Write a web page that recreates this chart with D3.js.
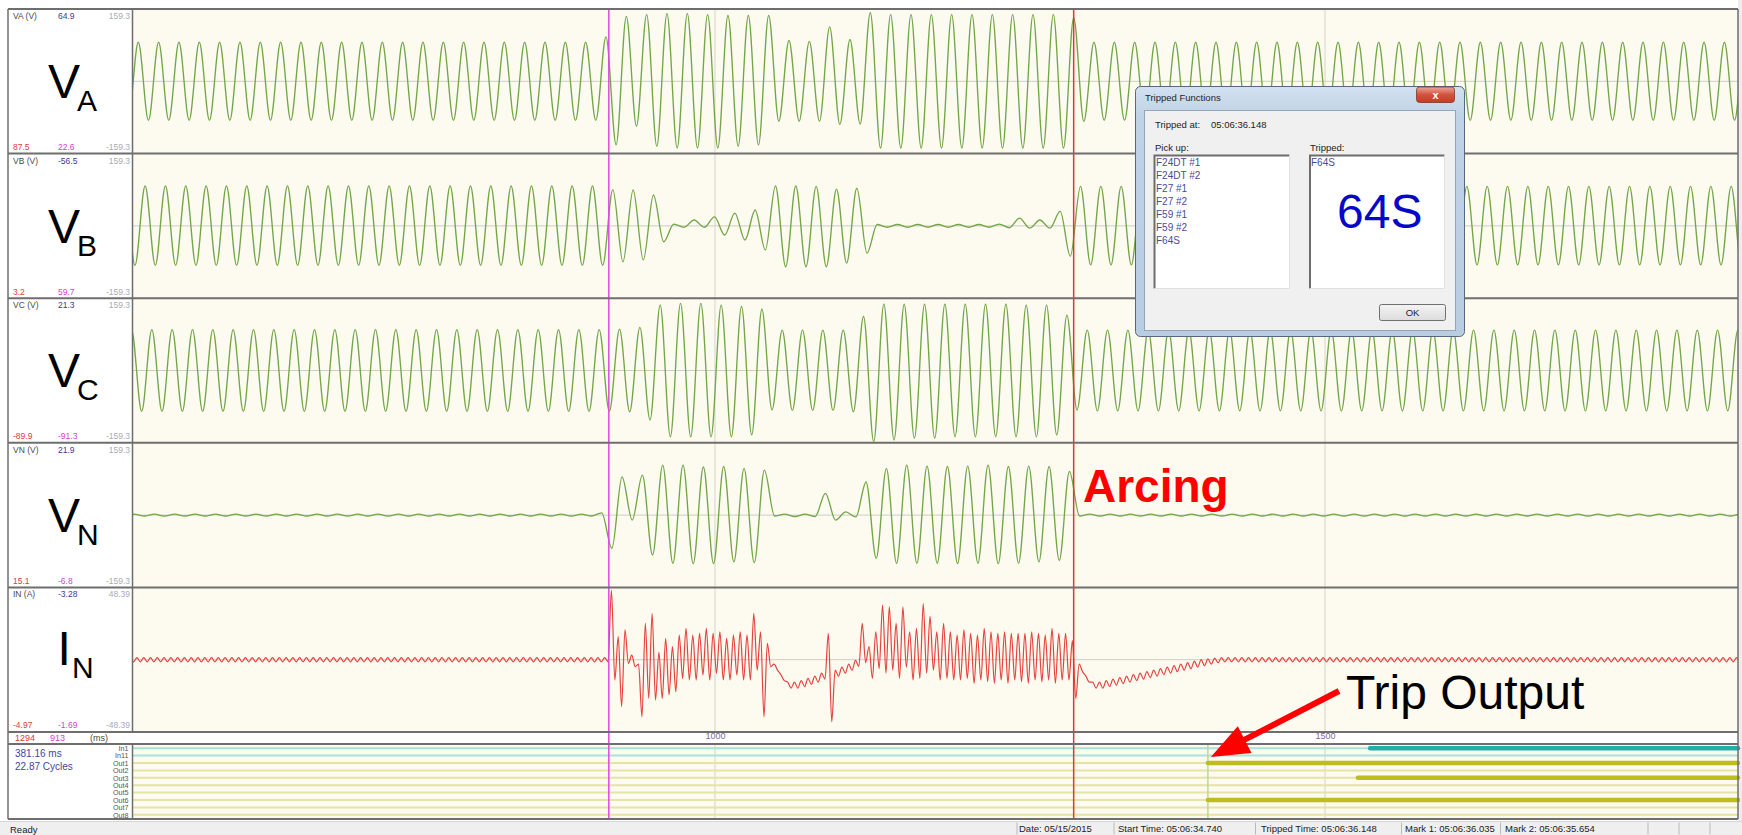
<!DOCTYPE html>
<html>
<head>
<meta charset="utf-8">
<title>64S stator ground fault record</title>
<script src="https://cdn.jsdelivr.net/npm/d3@7/dist/d3.min.js"></script>
<style>
  html, body { margin: 0; padding: 0; background: #ffffff; }
  svg { display: block; }
  text { font-family: "Liberation Sans", Arial, sans-serif; }
</style>
</head>
<body>
<svg id="chart" width="1742" height="835"></svg>
<script>
// ---------------------------------------------------------------------------
// Record data
// ---------------------------------------------------------------------------
const timeDomain = [523, 1838.5];     // ms shown across the plot
const timeTicks = [1000, 1500];       // ms
const mark1Time = 1294;               // red cursor (ms)
const mark2Time = 913;                // magenta cursor (ms)
const tripOutTime = 1404;             // trip contact pickup (ms)
const cycleMs = 1000 / 60;            // 60 Hz system

const channelIds   = ["VA", "VB", "VC", "VN", "IN"];
const channelNames = ["VA (V)", "VB (V)", "VC (V)", "VN (V)", "IN (A)"];
const channelRange = [159.3, 159.3, 159.3, 159.3, 48.39];
const rangeTopText = ["159.3", "159.3", "159.3", "159.3", "48.39"];
const rangeBotText = ["-159.3", "-159.3", "-159.3", "-159.3", "-48.39"];
const cursorValues = ["64.9", "-56.5", "21.3", "21.9", "-3.28"];
const mark1Values  = ["87.5", "3.2", "-89.9", "15.1", "-4.97"];
const mark2Values  = ["22.6", "59.7", "-91.3", "-6.8", "-1.69"];
const bigLetter    = ["V", "V", "V", "V", "I"];
const bigSubscript = ["A", "B", "C", "N", "N"];

// Waveforms: time of the first peak (ms) and runs of [cycles, peak, trough].
// Voltage runs step one 60 Hz cycle; the neutral current steps one 180 Hz cycle.
const VA_start = 494.0;
const VA_runs = [
  [25, 86, -86], [1, 98, -140], [1, 143, -99], [1, 147, -143], [1, 149, -147],
  [1, 149, -147], [1, 147, -147], [1, 145, -143], [1, 145, -140], [1, 145, -88],
  [1, 90, -88], [1, 88, -88], [1, 120, -95], [1, 92, -94], [1, 151, -147],
  [9, 147, -147], [1, 140, -88], [35, 86, -86]
];

const VB_start = 499.6;
const VB_runs = [
  [25, 88, -87], [1, 80, -79], [1, 79, -75], [1, 68, -35], [1, 4, -3],
  [1, 13, -3], [1, 20, -20], [1, 28, -31], [1, 35, -53], [1, 88, -90],
  [1, 88, -90], [1, 87, -90], [1, 81, -82], [1, 83, -60], [6, 3, -3],
  [1, 4, -4], [1, 17, -5], [1, 13, -5], [1, 32, -67], [35, 87, -86]
];

const VC_start = 505.1;
const VC_runs = [
  [25, 90, -90], [1, 91, -91], [1, 95, -109], [1, 144, -146], [1, 148, -146],
  [1, 148, -146], [1, 144, -146], [1, 141, -142], [1, 135, -87], [1, 89, -88],
  [1, 89, -88], [1, 89, -88], [1, 89, -91], [1, 119, -157], [1, 146, -153],
  [1, 146, -149], [1, 146, -149], [4, 146, -146], [1, 144, -146], [1, 144, -142],
  [1, 122, -87], [35, 89, -89]
];

const VN_start = 490.5;
const VN_runs = [
  [25, 2, -2], [1, 5, -73], [1, 84, -11], [1, 88, -88], [1, 110, -106],
  [1, 110, -107], [1, 106, -107], [1, 107, -103], [1, 103, -105], [1, 99, -2],
  [2, 2, -3], [1, 48, -11], [1, 7, -4], [1, 73, -95], [1, 103, -106],
  [1, 110, -106], [1, 108, -106], [1, 107, -107], [1, 108, -106], [1, 110, -107],
  [1, 107, -106], [1, 108, -103], [1, 107, -100], [1, 96, -2], [35, 2, -2]
];

const IN_start = 520.7;
const IN_runs = [
  [71, 1.4, -1.4],
  // first arcing burst
  [1, 46.6, -13.6], [1, 15.4, -31.4], [1, 19.9, -2.4], [1, 3, -4.7], [1, -3, -38.2],
  [1, 24.4, -25.9], [1, 31, -27], [1, 5, -25.9], [1, 14.3, -23.6], [1, 8.7, -21.4],
  [1, 16.5, -12.5], [1, 21, -13.6], [1, 16.5, -13.6], [1, 17.7, -10.2], [1, 21, -13.6],
  [1, 17.7, -9.1], [1, 18.7, -13.6], [1, 14.3, -13.6], [1, 16.5, -10.2], [1, 18.7, -13.6],
  [1, 16.5, -13.6], [1, 31, -6.9], [1, 18.7, -38.2], [1, 11, -4.7],
  // arc extinguished
  [1, -3, -7], [1, -10, -14], [1, -15, -19], [1, -15, -19], [1, -14, -18],
  [1, -12.5, -16.5], [1, -11, -15], [1, -9, -13], [1, 17.7, -41.5], [1, -7, -11],
  [1, -5, -9], [1, -3, -7], [1, -0.5, -4.5],
  // second arcing burst
  [1, 24.4, -2], [1, 8.7, -12.5], [1, 18.7, -6], [1, 36.6, -9], [1, 35.3, -7],
  [1, 24.4, -12.5], [1, 35.3, -5], [1, 18.7, -13.6], [1, 21, -12.5], [1, 37.5, -9],
  [1, 29, -7], [1, 18.7, -13.6], [1, 24.4, -12.5], [1, 18.7, -13.6], [1, 16.5, -13.6],
  [1, 20, -12.5], [1, 17.7, -15.8], [1, 16.5, -13.6], [1, 21, -14.7], [1, 18.7, -15.8],
  [1, 17.7, -13.6], [1, 18.7, -15.8], [1, 17.7, -13.6], [1, 17.7, -14.7], [1, 17.7, -15.8],
  [1, 18.7, -13.6], [1, 17.7, -14.7], [1, 16.5, -13.6], [1, 21, -15.8], [1, 17.7, -13.6],
  [1, 17.7, -13.6], [1, 12.8, -25.9],
  // recovery after trip
  [1, -3, -8], [1, -11, -15], [1, -15, -19], [1, -15, -19], [1, -14, -18],
  [1, -13, -17], [1, -12, -16], [1, -11, -15], [1, -10, -14], [1, -9, -13],
  [1, -8, -12], [1, -7, -11], [1, -6, -10], [1, -5, -9], [1, -4, -8],
  [1, -3, -7], [1, -2, -6], [1, -1, -5], [1, 0, -4], [1, 0.5, -3],
  [1, 1, -2], [78, 1.4, -1.4]
];

// Digital channels
const digitalNames = ["In1", "In11", "Out1", "Out2", "Out3", "Out4", "Out5", "Out6", "Out7", "Out8"];
const digitalOnAt  = [1537, null, 1404, null, 1527, null, null, 1404, null, null];

// Cursor summary, dialog and status bar texts
const cursorDelta = ["381.16 ms", "22.87 Cycles"];
const trippedAt = "05:06:36.148";
const pickupList = ["F24DT #1", "F24DT #2", "F27 #1", "F27 #2", "F59 #1", "F59 #2", "F64S"];
const trippedList = ["F64S"];
const statusFields = ["Date: 05/15/2015", "Start Time: 05:06:34.740", "Tripped Time: 05:06:36.148",
                      "Mark 1: 05:06:36.035", "Mark 2: 05:06:35.654"];

// ---------------------------------------------------------------------------
// Layout
// ---------------------------------------------------------------------------
const frameL = 8, labelR = 132.5, plotL = 133, plotR = 1738;
const panelsTop = 9, panelsBottom = 732;
const axisRowBottom = 744, digitalBottom = 819, statusTop = 821, H = 835;

const cream = "#fdfaf0";
const borderCol = "#6e6e6e";
const waveGreen = "#72a646";
const waveRed = "#e6433f";

const svg = d3.select("#chart");
const defs = svg.append("defs");

const x = d3.scaleLinear().domain(timeDomain).range([plotL, plotR]);
const band = d3.scaleBand().domain(channelIds).range([panelsTop, panelsBottom]);

const starts = { VA: VA_start, VB: VB_start, VC: VC_start, VN: VN_start, IN: IN_start };
const runs = { VA: VA_runs, VB: VB_runs, VC: VC_runs, VN: VN_runs, IN: IN_runs };
const periods = { VA: cycleMs, VB: cycleMs, VC: cycleMs, VN: cycleMs, IN: cycleMs / 3 };

// Expand runs into alternating peak / trough knots
function cycleKnots(start, period, list) {
  const pts = [];
  let i = 0;
  for (const [n, hi, lo] of list) {
    for (let c = 0; c < n; c++, i++) {
      const t = start + i * period;
      pts.push([t, hi], [t + period / 2, lo]);
    }
  }
  return pts;
}

svg.append("rect").attr("x", 0).attr("y", 0).attr("width", 1742).attr("height", H).attr("fill", "#ffffff");
svg.append("rect").attr("x", plotR).attr("y", 0).attr("width", 1742 - plotR).attr("height", H).attr("fill", "#ededed");

const gBack = svg.append("g");
const gWave = svg.append("g");
const gFront = svg.append("g");

// ---------------------------------------------------------------------------
// Analog panels
// ---------------------------------------------------------------------------
channelIds.forEach((id, i) => {
  const top = band(id), h = band.bandwidth(), bottom = top + h;
  const y = d3.scaleLinear().domain([-channelRange[i], channelRange[i]]).range([bottom, top]);

  gBack.append("rect").attr("x", plotL).attr("y", top).attr("width", plotR - plotL).attr("height", h)
    .attr("fill", cream);
  gBack.append("rect").attr("x", frameL).attr("y", top).attr("width", labelR - frameL).attr("height", h)
    .attr("fill", "#ffffff");

  gBack.append("line").attr("x1", plotL).attr("x2", plotR).attr("y1", y(0)).attr("y2", y(0))
    .attr("stroke", "#cdcdc6").attr("stroke-width", 1);
  gBack.selectAll(null).data(timeTicks).join("line")
    .attr("x1", d => x(d)).attr("x2", d => x(d)).attr("y1", top).attr("y2", bottom)
    .attr("stroke", "#d4d4cc").attr("stroke-width", 1);

  defs.append("clipPath").attr("id", "clip-" + id).append("rect")
    .attr("x", plotL).attr("y", top + 1).attr("width", plotR - plotL).attr("height", h - 2);

  const line = d3.line().x(d => x(d[0])).y(d => y(d[1])).curve(d3.curveMonotoneX);
  gWave.append("path")
    .datum(cycleKnots(starts[id], periods[id], runs[id]))
    .attr("d", line)
    .attr("clip-path", "url(#clip-" + id + ")")
    .attr("fill", "none")
    .attr("stroke", id === "IN" ? waveRed : waveGreen)
    .attr("stroke-width", id === "IN" ? 1.2 : 1.35)
    .attr("stroke-linejoin", "round");

  // small header / footer readings
  const small = (tx, ty, txt, col, anchor) => gFront.append("text").attr("x", tx).attr("y", ty)
    .attr("font-size", 8.5).attr("fill", col).attr("text-anchor", anchor || "start").text(txt);
  small(13, top + 10, channelNames[i], "#4a4a4a");
  small(58, top + 10, cursorValues[i], "#3b3b8f");
  small(130, top + 10, rangeTopText[i], "#ababab", "end");
  small(13, top + 141, mark1Values[i], "#e23b3b");
  small(58, top + 141, mark2Values[i], "#d33fd3");
  small(130, top + 141, rangeBotText[i], "#ababab", "end");

  // large channel name
  const isI = bigLetter[i] === "I";
  gFront.append("text").attr("x", isI ? 57.5 : 48).attr("y", top + (isI ? 78 : 89))
    .attr("font-size", 48).attr("fill", "#000").text(bigLetter[i]);
  gFront.append("text").attr("x", isI ? 72 : 77).attr("y", top + (isI ? 91 : 102))
    .attr("font-size", 30).attr("fill", "#000").text(bigSubscript[i]);
});

// ---------------------------------------------------------------------------
// Time axis row
// ---------------------------------------------------------------------------
gBack.append("rect").attr("x", frameL).attr("y", panelsBottom).attr("width", plotR - frameL)
  .attr("height", axisRowBottom - panelsBottom).attr("fill", "#ffffff");
const axisG = gFront.append("g").attr("transform", `translate(0,${panelsBottom + 1})`)
  .call(d3.axisBottom(x).tickValues(timeTicks).tickSize(0).tickPadding(0).tickFormat(d3.format("d")));
axisG.select(".domain").remove();
axisG.selectAll("text").attr("font-size", 9).attr("fill", "#7d6a9c")
  .attr("font-family", "'Liberation Sans', Arial, sans-serif");
gFront.append("text").attr("x", 15).attr("y", 741).attr("font-size", 9).attr("fill", "#e23b3b").text(String(mark1Time));
gFront.append("text").attr("x", 50).attr("y", 741).attr("font-size", 9).attr("fill", "#d33fd3").text(String(mark2Time));
gFront.append("text").attr("x", 90).attr("y", 741).attr("font-size", 9).attr("fill", "#4a4a4a").text("(ms)");

// ---------------------------------------------------------------------------
// Digital channels
// ---------------------------------------------------------------------------
const dy = d3.scaleBand().domain(digitalNames).range([axisRowBottom + 0.5, digitalBottom - 0.5]);
gBack.append("rect").attr("x", plotL).attr("y", axisRowBottom).attr("width", plotR - plotL)
  .attr("height", digitalBottom - axisRowBottom).attr("fill", cream);
gBack.append("rect").attr("x", frameL).attr("y", axisRowBottom).attr("width", labelR - frameL)
  .attr("height", digitalBottom - axisRowBottom).attr("fill", "#ffffff");
gBack.selectAll(null).data(timeTicks).join("line")
  .attr("x1", d => x(d)).attr("x2", d => x(d)).attr("y1", axisRowBottom).attr("y2", digitalBottom)
  .attr("stroke", "#d4d4cc").attr("stroke-width", 1);

const rowY = n => dy(n) + dy.bandwidth() / 2;
gWave.selectAll(null).data(digitalNames).join("line")
  .attr("x1", plotL).attr("x2", plotR).attr("y1", rowY).attr("y2", rowY)
  .attr("stroke", d => d.startsWith("In") ? "#a6e3da" : "#e6e3a6").attr("stroke-width", 2);
gWave.append("line").attr("x1", x(tripOutTime)).attr("x2", x(tripOutTime))
  .attr("y1", axisRowBottom).attr("y2", digitalBottom).attr("stroke", "#bcd98e").attr("stroke-width", 1.5);
gWave.selectAll(null).data(digitalNames.map((n, i) => [n, digitalOnAt[i]]).filter(d => d[1] !== null)).join("line")
  .attr("x1", d => x(d[1])).attr("x2", plotR).attr("y1", d => rowY(d[0])).attr("y2", d => rowY(d[0]))
  .attr("stroke", d => d[0].startsWith("In") ? "#25adad" : "#bdbd1c")
  .attr("stroke-width", 4.5).attr("stroke-linecap", "round");

gFront.selectAll(null).data(digitalNames).join("text")
  .attr("x", 128.5).attr("y", d => rowY(d) + 2.8).attr("text-anchor", "end")
  .attr("font-size", 7.2).attr("fill", "#555").text(d => d);
gFront.selectAll(null).data(cursorDelta).join("text")
  .attr("x", 15).attr("y", (d, i) => 757 + i * 12.5).attr("font-size", 10).attr("fill", "#3b48a0").text(d => d);

// ---------------------------------------------------------------------------
// Cursors and frame lines
// ---------------------------------------------------------------------------
gWave.append("line").attr("x1", x(mark2Time)).attr("x2", x(mark2Time)).attr("y1", panelsTop).attr("y2", digitalBottom)
  .attr("stroke", "#e046e0").attr("stroke-width", 1.5);
gWave.append("line").attr("x1", x(mark1Time)).attr("x2", x(mark1Time)).attr("y1", panelsTop).attr("y2", digitalBottom)
  .attr("stroke", "#e8332f").attr("stroke-width", 1.5);

const hLines = channelIds.map(id => band(id)).concat([panelsBottom, axisRowBottom, digitalBottom]);
gFront.selectAll(null).data(hLines).join("line")
  .attr("x1", frameL).attr("x2", plotR).attr("y1", d => d).attr("y2", d => d)
  .attr("stroke", borderCol).attr("stroke-width", 2);
gFront.append("line").attr("x1", labelR).attr("x2", labelR).attr("y1", panelsTop).attr("y2", panelsBottom)
  .attr("stroke", borderCol).attr("stroke-width", 1.5);
gFront.append("line").attr("x1", labelR).attr("x2", labelR).attr("y1", axisRowBottom).attr("y2", digitalBottom)
  .attr("stroke", borderCol).attr("stroke-width", 1.5);
gFront.append("line").attr("x1", frameL).attr("x2", frameL).attr("y1", panelsTop).attr("y2", digitalBottom)
  .attr("stroke", borderCol).attr("stroke-width", 1.5);
gFront.append("line").attr("x1", plotR).attr("x2", plotR).attr("y1", panelsTop).attr("y2", digitalBottom)
  .attr("stroke", borderCol).attr("stroke-width", 1.5);

// ---------------------------------------------------------------------------
// Status bar
// ---------------------------------------------------------------------------
gFront.append("rect").attr("x", 0).attr("y", statusTop).attr("width", 1742).attr("height", H - statusTop).attr("fill", "#efefef");
gFront.append("line").attr("x1", 0).attr("x2", 1742).attr("y1", statusTop + 0.5).attr("y2", statusTop + 0.5).attr("stroke", "#d6d6d6");
gFront.append("text").attr("x", 10).attr("y", 833).attr("font-size", 9.5).attr("fill", "#222").text("Ready");
const statusTextX = [1019, 1118, 1261, 1405, 1505];
const statusDividers = [1016.5, 1113.5, 1255, 1401, 1500, 1647.5, 1678.5, 1709.5];
gFront.selectAll(null).data(statusDividers).join("rect")
  .attr("x", d => d).attr("y", statusTop + 1.5).attr("width", 1).attr("height", H - statusTop - 2)
  .attr("fill", "#b9b9b9");
gFront.selectAll(null).data(statusFields).join("text")
  .attr("x", (d, i) => statusTextX[i]).attr("y", 832).attr("font-size", 9.5).attr("fill", "#222").text(d => d);

// ---------------------------------------------------------------------------
// Annotations
// ---------------------------------------------------------------------------
gFront.append("text").attr("x", 1083).attr("y", 502).attr("font-size", 46).attr("font-weight", "bold")
  .attr("fill", "#ff0000").text("Arcing");
gFront.append("text").attr("x", 1346).attr("y", 709).attr("font-size", 48).attr("fill", "#000").text("Trip Output");

// arrow from the label to the trip contact
const tail = [1339, 691], tip = [x(tripOutTime) + 3, 757];
const ang = Math.atan2(tip[1] - tail[1], tip[0] - tail[0]);
const headLen = 38, headHalf = 15;
const baseP = [tip[0] - headLen * Math.cos(ang), tip[1] - headLen * Math.sin(ang)];
gFront.append("line").attr("x1", tail[0]).attr("y1", tail[1])
  .attr("x2", baseP[0] + 6 * Math.cos(ang)).attr("y2", baseP[1] + 6 * Math.sin(ang))
  .attr("stroke", "#ff0000").attr("stroke-width", 6);
gFront.append("polygon").attr("fill", "#ff0000").attr("points", [
  tip,
  [baseP[0] + headHalf * Math.sin(ang), baseP[1] - headHalf * Math.cos(ang)],
  [baseP[0] - headHalf * Math.sin(ang), baseP[1] + headHalf * Math.cos(ang)]
].map(p => p.join(",")).join(" "));

// ---------------------------------------------------------------------------
// "Tripped Functions" window
// ---------------------------------------------------------------------------
const gradFrame = defs.append("linearGradient").attr("id", "frameGrad").attr("x1", 0).attr("y1", 0).attr("x2", 0).attr("y2", 1);
gradFrame.append("stop").attr("offset", "0%").attr("stop-color", "#d3e1ef");
gradFrame.append("stop").attr("offset", "12%").attr("stop-color", "#bfd2e6");
gradFrame.append("stop").attr("offset", "100%").attr("stop-color", "#b9cde2");
const gradClose = defs.append("linearGradient").attr("id", "closeGrad").attr("x1", 0).attr("y1", 0).attr("x2", 0).attr("y2", 1);
gradClose.append("stop").attr("offset", "0%").attr("stop-color", "#e9a99a");
gradClose.append("stop").attr("offset", "50%").attr("stop-color", "#d2523d");
gradClose.append("stop").attr("offset", "100%").attr("stop-color", "#c73b24");
const gradBtn = defs.append("linearGradient").attr("id", "btnGrad").attr("x1", 0).attr("y1", 0).attr("x2", 0).attr("y2", 1);
gradBtn.append("stop").attr("offset", "0%").attr("stop-color", "#f4f4f4");
gradBtn.append("stop").attr("offset", "100%").attr("stop-color", "#dcdcdc");

const dlg = gFront.append("g");
dlg.append("rect").attr("x", 1135.5).attr("y", 86.5).attr("width", 329).attr("height", 250).attr("rx", 5)
  .attr("fill", "url(#frameGrad)").attr("stroke", "#55687c").attr("stroke-width", 1);
dlg.append("text").attr("x", 1145).attr("y", 101).attr("font-size", 9.5).attr("fill", "#1e1e1e").text("Tripped Functions");
dlg.append("rect").attr("x", 1416.5).attr("y", 87).attr("width", 38).attr("height", 15.5).attr("rx", 3)
  .attr("fill", "url(#closeGrad)").attr("stroke", "#7a3a2e").attr("stroke-width", 0.8);
dlg.append("text").attr("x", 1435.5).attr("y", 99).attr("text-anchor", "middle").attr("font-size", 11)
  .attr("font-weight", "bold").attr("fill", "#ffffff").text("x");
dlg.append("rect").attr("x", 1144.5).attr("y", 110.5).attr("width", 311).attr("height", 220)
  .attr("fill", "#f0f0f0").attr("stroke", "#93a5b8").attr("stroke-width", 1);
dlg.append("text").attr("x", 1155).attr("y", 128).attr("font-size", 9.5).attr("fill", "#222").text("Tripped at:");
dlg.append("text").attr("x", 1211).attr("y", 128).attr("font-size", 9.5).attr("fill", "#222").text(trippedAt);
dlg.append("text").attr("x", 1155).attr("y", 151).attr("font-size", 9.5).attr("fill", "#222").text("Pick up:");
dlg.append("text").attr("x", 1310).attr("y", 151).attr("font-size", 9.5).attr("fill", "#222").text("Tripped:");

[[1154, 1290], [1309.5, 1445]].forEach(([l, r]) => {
  dlg.append("rect").attr("x", l).attr("y", 155).attr("width", r - l).attr("height", 133.5).attr("fill", "#ffffff");
  dlg.append("path").attr("d", `M${l + 0.5},288.5 V155.5 H${r - 0.5}`)
    .attr("fill", "none").attr("stroke", "#6d6d6d").attr("stroke-width", 2);
  dlg.append("path").attr("d", `M${l + 0.5},288.5 H${r - 0.5} V155.5`)
    .attr("fill", "none").attr("stroke", "#e0e0e0").attr("stroke-width", 1);
});
dlg.selectAll(null).data(pickupList).join("text")
  .attr("x", 1156).attr("y", (d, i) => 165.5 + i * 13.1).attr("font-size", 10).attr("fill", "#4a4a9c").text(d => d);
dlg.selectAll(null).data(trippedList).join("text")
  .attr("x", 1311).attr("y", (d, i) => 165.5 + i * 13.1).attr("font-size", 10).attr("fill", "#4a4a9c").text(d => d);
dlg.append("text").attr("x", 1337).attr("y", 227.5).attr("font-size", 48).attr("fill", "#0707c8").text("64S");

dlg.append("rect").attr("x", 1379.5).attr("y", 304.5).attr("width", 66).attr("height", 16).attr("rx", 2)
  .attr("fill", "url(#btnGrad)").attr("stroke", "#707070").attr("stroke-width", 1);
dlg.append("text").attr("x", 1412.5).attr("y", 316).attr("text-anchor", "middle").attr("font-size", 9.5)
  .attr("fill", "#222").text("OK");
</script>
</body>
</html>
